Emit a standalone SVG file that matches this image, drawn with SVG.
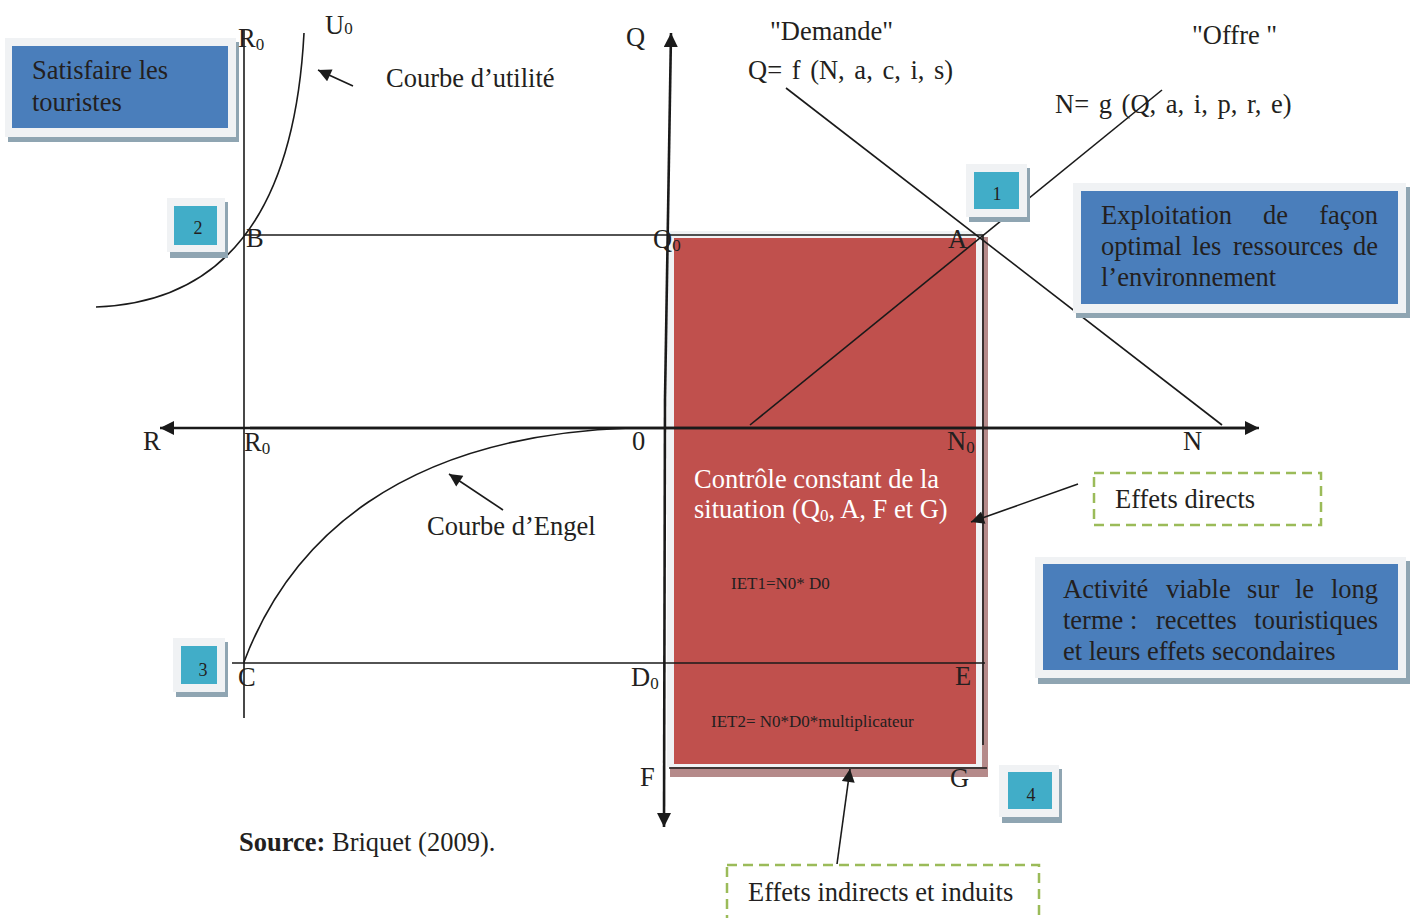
<svg xmlns="http://www.w3.org/2000/svg" width="1411" height="918" viewBox="0 0 1411 918">
<defs>
<marker id="ah" viewBox="0 0 10 10" refX="10" refY="5" markerWidth="16" markerHeight="14" markerUnits="userSpaceOnUse" orient="auto"><path d="M0,0 L10,5 L0,10 z" fill="#1a1a1a"/></marker>
<marker id="ahs" viewBox="0 0 10 10" refX="10" refY="5" markerWidth="15" markerHeight="13" markerUnits="userSpaceOnUse" orient="auto"><path d="M0,0 L10,5 L0,10 z" fill="#1a1a1a"/></marker>
</defs>
<style>
text{font-family:"Liberation Serif","Times New Roman",serif;fill:#231f20;}
.t{font-size:26.5px;}
.f{font-size:26.5px;word-spacing:3px;}
.lab{font-size:26.5px;}
.sub{font-size:17px;}
.num{font-size:18px;}
.small{font-size:17px;}
.wh{fill:#ffffff;}
.ln{stroke:#1a1a1a;stroke-width:1.6;fill:none;}
.ax{stroke:#1a1a1a;stroke-width:2.6;fill:none;}
.shadow{fill:#8fa5b2;}
.frame{fill:#f0f2f4;}
.blue{fill:#4a7ebb;}
.teal{fill:#41adc8;}
.dash{fill:none;stroke:#9bbb59;stroke-width:2.5;stroke-dasharray:10 6;}
</style>
<rect width="1411" height="918" fill="#ffffff"/>

<g id="zone-controle">
<rect x="670" y="237" width="318" height="540" fill="#b58a8a"/>
<rect x="667" y="231" width="315" height="536" class="frame"/>
<rect x="674" y="238" width="302" height="526" fill="#c0504d"/>
</g>

<g id="connectors">
<line class="ax" x1="1250" y1="428" x2="160" y2="428" marker-end="url(#ah)"/>
<line class="ax" x1="250" y1="428" x2="1259" y2="428" marker-end="url(#ah)"/>
<line class="ax" x1="665" y1="400" x2="671" y2="33" marker-end="url(#ah)"/>
<line class="ax" x1="665" y1="400" x2="664" y2="827" marker-end="url(#ah)"/>
<line class="ln" x1="244" y1="30" x2="244" y2="718"/>
<line class="ln" x1="244" y1="235" x2="984" y2="235"/>
<line class="ln" x1="232" y1="663" x2="985" y2="663"/>
<line class="ln" x1="669" y1="768" x2="987" y2="768"/>
<line class="ln" x1="983" y1="235" x2="983" y2="745"/>
<line class="ln" x1="786" y1="88" x2="1222" y2="425"/>
<line class="ln" x1="750" y1="425" x2="1162" y2="90"/>
<path class="ln" d="M304,33 Q290,300 96,307"/>
<path class="ln" d="M244,662 C290,540 400,436 630,428"/>
<line class="ln" stroke-width="2.2" x1="353" y1="86" x2="318" y2="70" marker-end="url(#ahs)"/>
<line class="ln" stroke-width="2.2" x1="503" y1="510" x2="449" y2="474" marker-end="url(#ahs)"/>
<line class="ln" stroke-width="2.2" x1="1078" y1="484" x2="971" y2="522" marker-end="url(#ahs)"/>
<line class="ln" stroke-width="2.2" x1="837" y1="864" x2="850" y2="769" marker-end="url(#ahs)"/>
</g>

<g id="box-satisfaire">
<rect x="8" y="42" width="231" height="100" class="shadow"/>
<rect x="5" y="38" width="231" height="99" class="frame"/>
<rect x="12" y="46" width="216" height="82" class="blue"/>
<text class="t" x="32" y="79">Satisfaire les</text>
<text class="t" x="32" y="111">touristes</text>
</g>

<g id="box-exploitation">
<rect x="1076" y="187" width="334" height="131" class="shadow"/>
<rect x="1073" y="183" width="333" height="130" class="frame"/>
<rect x="1081" y="191" width="317" height="113" class="blue"/>
<text class="t" x="1101" y="224">Exploitation</text>
<text class="t" x="1263" y="224">de</text>
<text class="t" x="1378" y="224" text-anchor="end">façon</text>
<text class="t" x="1101" y="255">optimal</text>
<text class="t" x="1192" y="255">les</text>
<text class="t" x="1233" y="255">ressources</text>
<text class="t" x="1378" y="255" text-anchor="end">de</text>
<text class="t" x="1101" y="286">l’environnement</text>
</g>

<g id="box-activite">
<rect x="1038" y="561" width="372" height="123" class="shadow"/>
<rect x="1035" y="557" width="371" height="121" class="frame"/>
<rect x="1043" y="564" width="355" height="106" class="blue"/>
<text class="t" x="1063" y="598">Activité</text>
<text class="t" x="1166" y="598">viable</text>
<text class="t" x="1247" y="598">sur</text>
<text class="t" x="1295" y="598">le</text>
<text class="t" x="1378" y="598" text-anchor="end">long</text>
<text class="t" x="1063" y="629">terme :</text>
<text class="t" x="1156" y="629">recettes</text>
<text class="t" x="1378" y="629" text-anchor="end">touristiques</text>
<text class="t" x="1063" y="660">et leurs effets secondaires</text>
</g>

<g id="box-1">
<rect x="969" y="168" width="61" height="54" class="shadow"/>
<rect x="966" y="164" width="61" height="53" class="frame"/>
<rect x="974" y="172" width="45" height="37" class="teal"/>
<text class="num" x="997" y="200" text-anchor="middle">1</text>
</g>
<g id="box-2">
<rect x="170" y="202" width="58" height="56" class="shadow"/>
<rect x="167" y="198" width="58" height="54" class="frame"/>
<rect x="174" y="206" width="43" height="39" class="teal"/>
<text class="num" x="198" y="234" text-anchor="middle">2</text>
</g>
<g id="box-3">
<rect x="176" y="642" width="52" height="55" class="shadow"/>
<rect x="173" y="638" width="52" height="54" class="frame"/>
<rect x="181" y="646" width="36" height="38" class="teal"/>
<text class="num" x="203" y="676" text-anchor="middle">3</text>
</g>
<g id="box-4">
<rect x="1002" y="769" width="60" height="54" class="shadow"/>
<rect x="999" y="765" width="60" height="52" class="frame"/>
<rect x="1008" y="772" width="44" height="37" class="teal"/>
<text class="num" x="1031" y="801" text-anchor="middle">4</text>
</g>

<g id="effets-directs">
<rect x="1094" y="473" width="227" height="52" class="dash"/>
<text class="t" x="1115" y="508">Effets directs</text>
</g>

<g id="effets-indirects">
<rect x="727" y="865" width="312" height="70" class="dash"/>
<text class="t" x="748" y="901">Effets indirects et induits</text>
</g>

<g id="labels">
<text class="lab" x="238" y="47">R<tspan class="sub" dy="3">0</tspan></text>
<text class="lab" x="325" y="34">U<tspan class="sub" dy="0">0</tspan></text>
<text class="t" x="386" y="87">Courbe d’utilité</text>
<text class="lab" x="626" y="46">Q</text>
<text class="t" x="770" y="40">"Demande"</text>
<text class="f" x="748" y="79">Q= f (N, a, c, i, s)</text>
<text class="t" x="1192" y="44">"Offre "</text>
<text class="f" x="1055" y="113">N= g (Q, a, i, p, r, e)</text>
<text class="lab" x="246" y="247">B</text>
<text class="lab" x="653" y="248">Q<tspan class="sub" dy="3">0</tspan></text>
<text class="lab" x="948" y="248">A</text>
<text class="lab" x="143" y="450">R</text>
<text class="lab" x="244" y="451">R<tspan class="sub" dy="3">0</tspan></text>
<text class="lab" x="632" y="450">0</text>
<text class="lab" x="947" y="450">N<tspan class="sub" dy="3">0</tspan></text>
<text class="lab" x="1183" y="450">N</text>
<text class="lab" x="238" y="686">C</text>
<text class="lab" x="631" y="686">D<tspan class="sub" dy="3">0</tspan></text>
<text class="lab" x="955" y="685">E</text>
<text class="lab" x="640" y="786">F</text>
<text class="lab" x="950" y="787">G</text>
<text class="t" x="427" y="535">Courbe d’Engel</text>
<text class="t wh" x="694" y="488">Contrôle constant de la</text>
<text class="t wh" x="694" y="518">situation (Q<tspan class="sub wh" dy="3">0</tspan><tspan dy="-3">, A, F et G)</tspan></text>
<text class="small" x="731" y="589">IET1=N0* D0</text>
<text class="small" x="711" y="727">IET2= N0*D0*multiplicateur</text>
<text class="t" x="239" y="851"><tspan font-weight="bold">Source:</tspan> Briquet (2009).</text>
</g>
</svg>
